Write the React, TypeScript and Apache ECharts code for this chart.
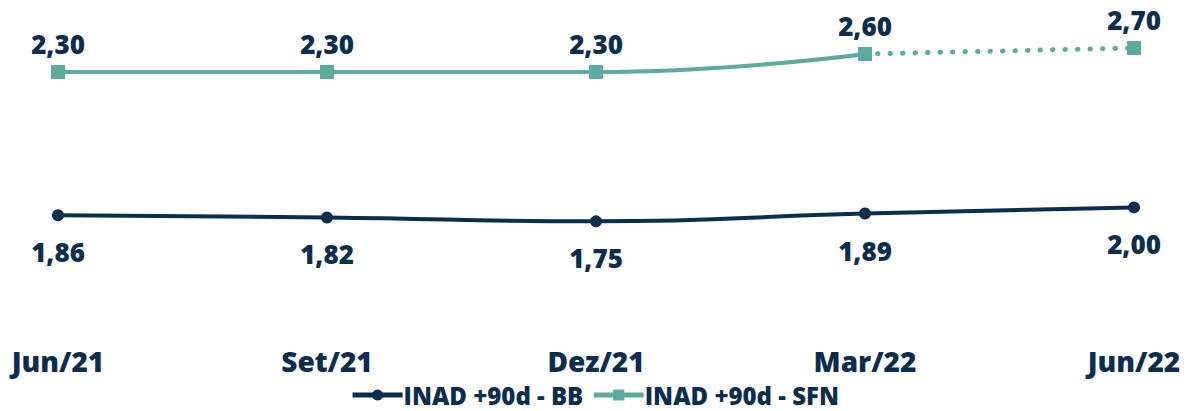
import React, { useEffect, useRef } from "react";
import * as echarts from "echarts";

const categories = ["Jun/21", "Set/21", "Dez/21", "Mar/22", "Jun/22"];
const bbValues = [1.86, 1.82, 1.75, 1.89, 2.0];
const sfnValues = [2.3, 2.3, 2.3, 2.6, null];
const sfnProjected = [null, null, null, 2.6, 2.7];
const bbName = "INAD +90d - BB";
const sfnName = "INAD +90d - SFN";

const NAVY = "#0b2e4f";
const TEAL = "#5bab9e";
const FONT = "Open Sans";

const fmt = (p: any) => {
  const v = Array.isArray(p.value) ? p.value[1] : p.value;
  return Number(v).toFixed(2).replace(".", ",");
};

export default function App() {
  const ref = useRef<HTMLDivElement>(null);
  useEffect(() => {
    document.body.style.margin = "0";
    const chart = echarts.init(ref.current!, null, { renderer: "svg" });
    const labelStyle = {
      show: true,
      color: NAVY,
      fontFamily: FONT,
      fontWeight: 800,
      fontSize: 26,
      formatter: fmt,
    };
    chart.setOption({
      animation: false,
      grid: { left: 58, right: 55, top: 18, height: 312, containLabel: false },
      legend: {
        data: [bbName, sfnName],
        left: "center",
        top: 383,
        padding: 0,
        itemWidth: 50,
        itemHeight: 14,
        itemGap: 8,
        lineStyle: { width: 5 },
        textStyle: {
          color: NAVY,
          fontFamily: FONT,
          fontWeight: 800,
          fontSize: 24,
          lineHeight: 24,
          padding: [0, 0, 0, -4],
        },
      },
      xAxis: {
        type: "category",
        data: categories,
        boundaryGap: false,
        axisLine: { show: false },
        axisTick: { show: false },
        splitLine: { show: false },
        axisLabel: { color: NAVY, fontFamily: FONT, fontWeight: 800, fontSize: 28, margin: 17 },
      },
      yAxis: [
        { type: "value", min: -2, max: 3.2, show: false, splitLine: { show: false } },
        { type: "value", min: -0.2, max: 5.4, show: false, splitLine: { show: false } },
      ],
      series: [
        {
          name: bbName,
          type: "line",
          yAxisIndex: 1,
          data: bbValues,
          smooth: true,
          symbol: "circle",
          symbolSize: 12,
          itemStyle: { color: NAVY },
          lineStyle: { color: NAVY, width: 4 },
          label: { ...labelStyle, position: "bottom", distance: 18 },
        },
        {
          name: sfnName,
          type: "line",
          yAxisIndex: 0,
          data: sfnValues,
          smooth: true,
          symbol: "rect",
          symbolSize: 14,
          itemStyle: { color: TEAL },
          lineStyle: { color: TEAL, width: 4 },
          label: { ...labelStyle, position: "top", distance: 8 },
        },
        {
          name: "projecao",
          type: "line",
          yAxisIndex: 0,
          data: sfnProjected,
          smooth: false,
          symbol: "rect",
          symbolSize: 14,
          itemStyle: { color: TEAL },
          lineStyle: { color: TEAL, width: 5, type: [0.5, 12], cap: "round" },
          label: {
            ...labelStyle,
            position: "top",
            distance: 8,
            formatter: (p: any) => (p.dataIndex === 4 ? fmt(p) : ""),
          },
        },
      ],
    });
    return () => chart.dispose();
  }, []);
  return <div ref={ref} style={{ width: 1189, height: 411 }} />;
}
